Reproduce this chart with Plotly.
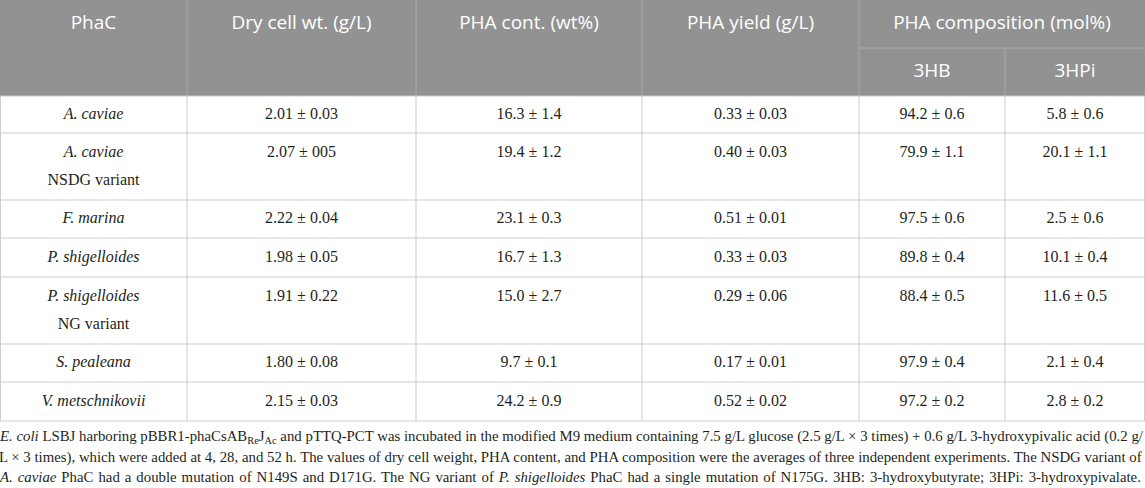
import plotly.graph_objects as go

# table content
phac = ["A. caviae", "A. caviae", "F. marina", "P. shigelloides", "P. shigelloides",
        "S. pealeana", "V. metschnikovii"]
variant = ["", "NSDG variant", "", "", "NG variant", "", ""]
dry_cell = ["2.01 ± 0.03", "2.07 ± 005", "2.22 ± 0.04", "1.98 ± 0.05", "1.91 ± 0.22",
            "1.80 ± 0.08", "2.15 ± 0.03"]
pha_cont = ["16.3 ± 1.4", "19.4 ± 1.2", "23.1 ± 0.3", "16.7 ± 1.3", "15.0 ± 2.7",
            "9.7 ± 0.1", "24.2 ± 0.9"]
pha_yield = ["0.33 ± 0.03", "0.40 ± 0.03", "0.51 ± 0.01", "0.33 ± 0.03", "0.29 ± 0.06",
             "0.17 ± 0.01", "0.52 ± 0.02"]
comp_3hb = ["94.2 ± 0.6", "79.9 ± 1.1", "97.5 ± 0.6", "89.8 ± 0.4", "88.4 ± 0.5",
            "97.9 ± 0.4", "97.2 ± 0.2"]
comp_3hpi = ["5.8 ± 0.6", "20.1 ± 1.1", "2.5 ± 0.6", "10.1 ± 0.4", "11.6 ± 0.5",
             "2.1 ± 0.4", "2.8 ± 0.2"]

headers = ["PhaC", "Dry cell wt. (g/L)", "PHA cont. (wt%)", "PHA yield (g/L)"]
group_header = "PHA composition (mol%)"
sub_headers = ["3HB", "3HPi"]

footnote = [
    "<i>E. coli</i> LSBJ harboring pBBR1-phaCsAB<sub>Re</sub>J<sub>Ac</sub> and pTTQ-PCT was incubated "
    "in the modified M9 medium containing 7.5 g/L glucose (2.5 g/L × 3 times) + 0.6 g/L "
    "3-hydroxypivalic acid (0.2 g/",
    "L × 3 times), which were added at 4, 28, and 52 h. The values of dry cell weight, PHA content, "
    "and PHA composition were the averages of three independent experiments. The NSDG variant of",
    "<i>A. caviae</i> PhaC had a double mutation of N149S and D171G. The NG variant of "
    "<i>P. shigelloides</i> PhaC had a single mutation of N175G. 3HB: 3-hydroxybutyrate; "
    "3HPi: 3-hydroxypivalate.",
]
# extra word spacing used to justify each footnote line (px)
foot_spacing = [0.05, 0.05, 1.3]

# layout of the grid (pixels)
W, H = 1145, 488
col_w = [187, 229, 226, 217, 146, 140]
row_h = [37, 67, 38, 39, 67, 38, 39]
head_h = 96
HEAD_BG = "#929292"
HEAD_LINE = "#ababab"
BODY_LINE = "#cdcdcd"
TXT = "#231f20"

edges = [0]
for w in col_w:
    edges.append(edges[-1] + w)
centers = [(a + b) / 2 for a, b in zip(edges[:-1], edges[1:])]
tops = [head_h]
for h in row_h:
    tops.append(tops[-1] + h)

fig = go.Figure()

# cell text
name_x, name_y, name_t = [], [], []
val_x, val_y, val_t = [], [], []
columns = [dry_cell, pha_cont, pha_yield, comp_3hb, comp_3hpi]
for i in range(len(phac)):
    if variant[i]:
        y1 = tops[i] + 20
        name_x += [centers[0], centers[0]]
        name_y += [y1, tops[i] + 48]
        name_t += ["<i>" + phac[i] + "</i>", variant[i]]
    else:
        y1 = (tops[i] + tops[i + 1]) / 2
        name_x.append(centers[0])
        name_y.append(y1)
        name_t.append("<i>" + phac[i] + "</i>")
    for j, col in enumerate(columns):
        val_x.append(centers[j + 1])
        val_y.append(y1)
        val_t.append(col[i])

fig.add_trace(go.Scatter(x=name_x + val_x, y=name_y + val_y, text=name_t + val_t,
                         mode="text", textposition="middle center",
                         textfont=dict(family="Liberation Serif", size=16, color=TXT),
                         hoverinfo="skip"))

# header text
hx = centers[:4] + [(edges[4] + edges[6]) / 2] + centers[4:6]
hy = [24] * 5 + [72, 72]
fig.add_trace(go.Scatter(x=hx, y=hy, text=headers + [group_header] + sub_headers,
                         mode="text", textposition="middle center",
                         textfont=dict(family="Open Sans", size=19, color="white"),
                         hoverinfo="skip"))

shapes = [dict(type="rect", x0=0, x1=W, y0=0, y1=head_h, fillcolor=HEAD_BG,
               line_width=0, layer="below")]
# header grid
for k, x in enumerate(edges[1:-1], start=1):
    y0 = head_h / 2 if k == 5 else 0
    shapes.append(dict(type="line", x0=x, x1=x, y0=y0, y1=head_h,
                       line=dict(color=HEAD_LINE, width=1), layer="below"))
shapes.append(dict(type="line", x0=edges[4], x1=W, y0=head_h / 2, y1=head_h / 2,
                   line=dict(color=HEAD_LINE, width=1), layer="below"))
# body grid
for x in edges:
    xx = min(max(x, 0.5), W - 0.5)
    shapes.append(dict(type="line", x0=xx, x1=xx, y0=head_h, y1=tops[-1],
                       line=dict(color=BODY_LINE, width=1), layer="below"))
for y in tops:
    shapes.append(dict(type="line", x0=0, x1=W, y0=y, y1=y,
                       line=dict(color=BODY_LINE, width=1), layer="below"))

annotations = []
for k, line in enumerate(footnote):
    txt = "<span style='word-spacing:%.2fpx'>%s</span>" % (foot_spacing[k], line)
    annotations.append(dict(x=0, y=tops[-1] + 16 + 20 * k, xref="x", yref="y",
                            text=txt, showarrow=False, xanchor="left", yanchor="middle",
                            borderpad=0, xshift=-2,
                            font=dict(family="Liberation Serif", size=14.8, color=TXT)))

fig.update_layout(width=W, height=H, margin=dict(l=0, r=0, t=0, b=0),
                  paper_bgcolor="white", plot_bgcolor="white", showlegend=False,
                  shapes=shapes, annotations=annotations)
fig.update_xaxes(range=[0, W], visible=False, fixedrange=True)
fig.update_yaxes(range=[H, 0], visible=False, fixedrange=True)

fig.write_html("out.html", config={"displayModeBar": False},
               post_script="document.body.style.margin = '0';")
